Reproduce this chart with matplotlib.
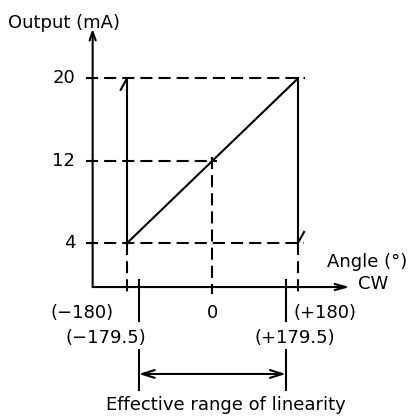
import matplotlib
matplotlib.use('Agg')
import matplotlib.pyplot as plt

# values (schematic, angle in degrees, output in mA)
angles = [-180, 0, 180]
outputs = [4, 12, 20]
angle_labels = ["(\u2212180)", "0", "(+180)"]
linear_labels = ["(\u2212179.5)", "(+179.5)"]
output_labels = ["20", "12", "4"]
# the +-179.5 marks are drawn spread apart from +-180 so they can be read
linear_marks = [-155, 155]

LW = 1.5
DASH = (0, (5.8, 2.9))
FS = 13

fig = plt.figure(figsize=(4.1, 4.2), dpi=100)
ax = fig.add_axes([0, 0, 1, 1])
ax.set_xlim(-447, 416)
ax.set_ylim(-13.16, 27.62)
ax.axis('off')

x_axis_y = -0.25
y_axis_x = -252

# axes with open arrowheads
ax.annotate("", xy=(y_axis_x, 24.8), xytext=(y_axis_x, x_axis_y),
            arrowprops=dict(arrowstyle="->,head_length=0.6,head_width=0.22", lw=LW, color="black",
                            shrinkA=0, shrinkB=0))
ax.annotate("", xy=(289, x_axis_y), xytext=(y_axis_x, x_axis_y),
            arrowprops=dict(arrowstyle="->,head_length=0.8,head_width=0.22", lw=LW, color="black",
                            shrinkA=0, shrinkB=0))

# dashed guides
ax.plot([-266, 195], [outputs[2], outputs[2]], color="black", lw=LW, linestyle=DASH)
ax.plot([-266, 10], [outputs[1], outputs[1]], color="black", lw=LW, linestyle=DASH)
ax.plot([-266, 192], [outputs[0], outputs[0]], color="black", lw=LW, linestyle=DASH)
ax.plot([angles[1], angles[1]], [12.4, -0.9], color="black", lw=LW, linestyle=DASH)
ax.plot([angles[0], angles[0]], [outputs[0], -0.9], color="black", lw=LW, linestyle=DASH)
ax.plot([angles[2], angles[2]], [outputs[0], -0.9], color="black", lw=LW, linestyle=DASH)

# output characteristic
ax.plot([angles[0], angles[0]], [outputs[0], outputs[2]], color="black", lw=LW)
ax.plot([angles[2], angles[2]], [outputs[0], outputs[2]], color="black", lw=LW)
ax.plot([angles[0], angles[2]], [outputs[0], outputs[2]], color="black", lw=LW)
ax.plot([-181, -193], [19.9, 18.9], color="black", lw=LW)
ax.plot([181, 193], [4.1, 5.1], color="black", lw=LW)

# effective range marks
for m in linear_marks:
    ax.plot([m, m], [0.42, -3.55], color="black", lw=LW)
    ax.plot([m, m], [-6.36, -10.24], color="black", lw=LW)
ax.annotate("", xy=(linear_marks[0], -8.69), xytext=(linear_marks[1], -8.69),
            arrowprops=dict(arrowstyle="<->,head_length=0.9,head_width=0.28", lw=LW, color="black",
                            shrinkA=0, shrinkB=0))

# text
ax.text(-430, 24.87, "Output (mA)", fontsize=FS, ha="left", va="baseline")
for val, lab in zip(outputs[::-1], output_labels):
    ax.text(-289, val, lab, fontsize=FS, ha="right", va="center")
ax.text(241, 1.7, "Angle (\u00b0)", fontsize=FS, ha="left", va="baseline")
ax.text(306, 0.0, "CW", fontsize=FS, ha="left", va="center")
for xpos, lab in zip([-275, 0, 238], angle_labels):
    ax.text(xpos, -3.25, lab, fontsize=FS, ha="center", va="baseline")
for xpos, lab in zip([-225, 173], linear_labels):
    ax.text(xpos, -5.68, lab, fontsize=FS, ha="center", va="baseline")
ax.text(29, -12.2, "Effective range of linearity", fontsize=FS, ha="center", va="baseline")

fig.savefig("out.png", dpi=100)
